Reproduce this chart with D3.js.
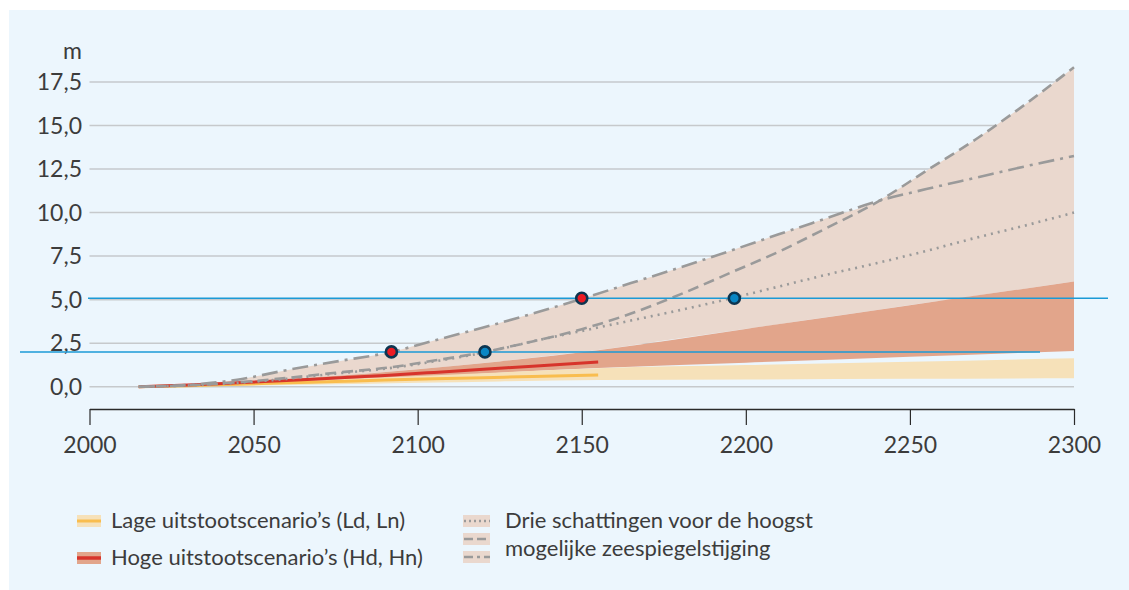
<!DOCTYPE html>
<html lang="nl">
<head>
<meta charset="utf-8">
<title>Zeespiegelstijging</title>
<script src="https://d3js.org/d3.v7.min.js"></script>
<style>
  body { margin: 0; background: #fff; font-family: Lato, "Open Sans", sans-serif; }
  .tick text { font-family: Lato, sans-serif; }
</style>
</head>
<body>
<div id="chart"></div>
<script>
// --- data ---
var years = [2015, 2030, 2045, 2060, 2075, 2092, 2105, 2120, 2135, 2150,
             2165, 2180, 2196, 2210, 2225, 2240, 2255, 2270, 2285, 2300];
// three estimates of the highest possible rise (m)
var dotted  = [0, 0.07, 0.22, 0.45, 0.75, 1.08, 1.45, 1.95, 2.6, 3.2,
               3.8, 4.4, 5.1, 5.75, 6.45, 7.1, 7.8, 8.55, 9.25, 10.0];
var dashed  = [0, 0.08, 0.25, 0.5, 0.8, 1.12, 1.5, 1.98, 2.6, 3.3,
               4.2, 5.3, 6.6, 7.75, 9.15, 10.6, 12.4, 14.2, 16.2, 18.35];
var dashdot = [0, 0.1, 0.4, 0.95, 1.44, 2.0, 2.65, 3.4, 4.2, 5.05,
               5.95, 6.85, 7.85, 8.75, 9.7, 10.65, 11.35, 12.0, 12.65, 13.25];

// high emission scenarios (Hd, Hn)
var highLineYears = [2015, 2030, 2045, 2060, 2075, 2090, 2105, 2120, 2135, 2155];
var highLine      = [0, 0.1, 0.22, 0.35, 0.5, 0.65, 0.82, 1.0, 1.18, 1.42];
var highBandYears = [2015, 2040, 2070, 2100, 2125, 2155, 2200, 2250, 2300];
var highBandLow   = [0, 0.08, 0.3, 0.55, 0.8, 1.07, 1.38, 1.72, 2.05];
var highBandHigh  = [0, 0.2, 0.55, 1.0, 1.45, 2.1, 3.32, 4.68, 6.04];

// low emission scenarios (Ld, Ln)
var lowLineYears = [2015, 2030, 2045, 2060, 2075, 2090, 2105, 2120, 2135, 2155];
var lowLine      = [0, 0.06, 0.14, 0.22, 0.3, 0.38, 0.45, 0.52, 0.59, 0.67];
var lowBandYears = [2015, 2040, 2070, 2100, 2125, 2155, 2200, 2250, 2300];
var lowBandLow   = [0, 0.04, 0.12, 0.22, 0.3, 0.38, 0.41, 0.45, 0.48];
var lowBandHigh  = [0, 0.15, 0.38, 0.62, 0.82, 1.06, 1.24, 1.43, 1.63];

// marked points and reference levels
var markYears  = [2092, 2120.5, 2150, 2196.5];
var markValues = [2.0, 2.0, 5.08, 5.08];
var markKinds  = ["red", "blue", "red", "blue"];
var refLevels  = [2.0, 5.08];

var yTicks = [0, 2.5, 5, 7.5, 10, 12.5, 15, 17.5];
var xTicks = [2000, 2050, 2100, 2150, 2200, 2250, 2300];

// --- layout ---
var W = 1129, H = 590;
var svg = d3.select("#chart").append("svg")
    .attr("width", W).attr("height", H);

svg.append("rect")
    .attr("x", 9).attr("y", 10).attr("width", W - 9).attr("height", H - 10)
    .attr("fill", "#ecf6fd");

var x = d3.scaleLinear().domain([2000, 2300]).range([89.5, 1074]);
var y = d3.scaleLinear().domain([0, 17.5]).range([386.7, 82]);

// grid
svg.append("g").selectAll("line")
  .data(yTicks).enter().append("line")
    .attr("x1", x(2000)).attr("x2", x(2300))
    .attr("y1", function(d){ return y(d); })
    .attr("y2", function(d){ return y(d); })
    .attr("stroke", "#c6c9cc").attr("stroke-width", 1.5);

// y labels
svg.append("g").selectAll("text")
  .data(yTicks).enter().append("text")
    .attr("x", 82).attr("y", function(d){ return y(d) + 8; })
    .attr("text-anchor", "end")
    .attr("font-size", 23).attr("fill", "#3c3c3c")
    .text(function(d){ return d3.format(".1f")(d).replace(".", ","); });

svg.append("text").attr("x", 82).attr("y", 59).attr("text-anchor", "end")
    .attr("font-size", 23).attr("fill", "#3c3c3c").text("m");

// x axis
var xAxis = svg.append("g")
    .attr("transform", "translate(0,409)")
    .call(d3.axisBottom(x).tickValues(xTicks).tickFormat(d3.format("d"))
      .tickSize(16).tickSizeOuter(0));
xAxis.select(".domain").attr("stroke", "#2a2a2a").attr("stroke-width", 1.5);
xAxis.selectAll(".tick line").attr("stroke", "#2a2a2a").attr("stroke-width", 1.2);
xAxis.selectAll(".tick text").attr("font-size", 23).attr("fill", "#3c3c3c").attr("dy", "1.1em");

// --- bands ---
function zip(xs, ys) { return xs.map(function(v, i){ return [v, ys[i]]; }); }
function bandRows(xs, lo, hi) { return xs.map(function(v, i){ return [v, lo[i], hi[i]]; }); }

var area = d3.area()
    .x(function(d){ return x(d[0]); })
    .y0(function(d){ return y(d[1]); })
    .y1(function(d){ return y(d[2]); })
    .curve(d3.curveMonotoneX);
var line = d3.line()
    .x(function(d){ return x(d[0]); })
    .y(function(d){ return y(d[1]); })
    .curve(d3.curveMonotoneX);

// envelope of the three estimates, down to the high band
var highTop = d3.scaleLinear().domain(highBandYears).range(highBandHigh);
var envelope = years.map(function(yr, i){
  return [yr, Math.min(highTop(yr), dotted[i]), Math.max(dashed[i], dashdot[i])];
});
svg.append("path").datum(envelope).attr("d", area).attr("fill", "#ead8ce");

svg.append("path").datum(bandRows(highBandYears, highBandLow, highBandHigh))
    .attr("d", area).attr("fill", "#e2a58b");
svg.append("path").datum(bandRows(lowBandYears, lowBandLow, lowBandHigh))
    .attr("d", area).attr("fill", "#f6e1b9");

// scenario medians
svg.append("path").datum(zip(lowLineYears, lowLine)).attr("d", line)
    .attr("fill", "none").attr("stroke", "#f9bd4e").attr("stroke-width", 3);
svg.append("path").datum(zip(highLineYears, highLine)).attr("d", line)
    .attr("fill", "none").attr("stroke", "#d7342b").attr("stroke-width", 3);

// three estimates
var styles = [
  {data: dotted,  dash: "2,5"},
  {data: dashed,  dash: "11,6"},
  {data: dashdot, dash: "16,6,3,6"}
];
styles.forEach(function(s){
  svg.append("path").datum(zip(years, s.data)).attr("d", line)
    .attr("fill", "none").attr("stroke", "#9a9a9a").attr("stroke-width", 2.6)
    .attr("stroke-dasharray", s.dash);
});

// reference levels
svg.append("line").attr("x1", 20).attr("x2", 1040)
    .attr("y1", y(refLevels[0])).attr("y2", y(refLevels[0]))
    .attr("stroke", "#1b9ad6").attr("stroke-width", 1.5);
svg.append("line").attr("x1", 88).attr("x2", 1108)
    .attr("y1", y(refLevels[1])).attr("y2", y(refLevels[1]))
    .attr("stroke", "#1b9ad6").attr("stroke-width", 1.5);

// marked points
svg.append("g").selectAll("circle")
  .data(markYears).enter().append("circle")
    .attr("cx", function(d){ return x(d); })
    .attr("cy", function(d, i){ return y(markValues[i]); })
    .attr("r", 5.5)
    .attr("fill", function(d, i){ return markKinds[i] == "red" ? "#ec1c24" : "#0a86c4"; })
    .attr("stroke", "#0d3550").attr("stroke-width", 2.6);

// --- legend ---
var lg = svg.append("g").attr("font-size", 22).attr("fill", "#3c3c3c");
function swatch(yc, bg, col, w) {
  lg.append("rect").attr("x", 77).attr("y", yc - 6).attr("width", 24).attr("height", 12).attr("fill", bg);
  lg.append("line").attr("x1", 77).attr("x2", 101).attr("y1", yc).attr("y2", yc)
    .attr("stroke", col).attr("stroke-width", w);
}
swatch(521, "#f6e1b9", "#f9bd4e", 3);
swatch(558, "#e2a58b", "#d7342b", 3.5);
lg.append("text").attr("x", 111).attr("y", 528).text("Lage uitstootscenario\u2019s (Ld, Ln)");
lg.append("text").attr("x", 111).attr("y", 565).text("Hoge uitstootscenario\u2019s (Hd, Hn)");

[{yc: 521, dash: "2,3"}, {yc: 539, dash: "9,4"}, {yc: 557, dash: "9,4,3,4"}].forEach(function(s){
  lg.append("rect").attr("x", 463).attr("y", s.yc - 6).attr("width", 27).attr("height", 12).attr("fill", "#ead8ce");
  lg.append("line").attr("x1", 464).attr("x2", 490).attr("y1", s.yc).attr("y2", s.yc)
    .attr("stroke", "#9a9a9a").attr("stroke-width", 2.4).attr("stroke-dasharray", s.dash);
});
lg.append("text").attr("x", 505).attr("y", 528).text("Drie schattingen voor de hoogst");
lg.append("text").attr("x", 505).attr("y", 556).text("mogelijke zeespiegelstijging");
</script>
</body>
</html>
